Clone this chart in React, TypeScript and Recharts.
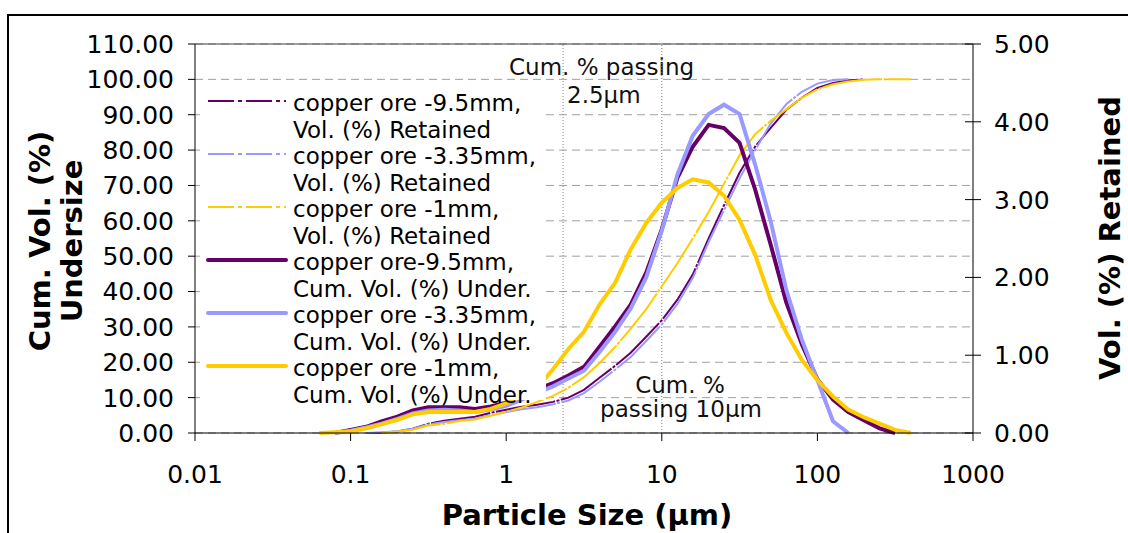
import {
  CartesianGrid, Legend, Line, LineChart, ReferenceLine, XAxis, YAxis,
} from "recharts";

// particle size (µm), log spaced
const sizes = [
  0.063, 0.079, 0.1, 0.126, 0.158, 0.2, 0.251, 0.316, 0.398, 0.501, 0.631, 0.794,
  1, 1.26, 1.58, 2, 2.51, 3.16, 3.98, 5.01, 6.31, 7.94,
  10, 12.6, 15.8, 20, 25.1, 31.6, 39.8, 50.1, 63.1, 79.4,
  100, 126, 158, 200, 251, 316, 398,
];

// thin S-curves, left axis (cumulative %)
const cum95 = [
  null, null, null, 0, 0.1, 0.4, 1.2, 2.6, 3.5, 4.0, 4.6, 5.7,
  6.6, 7.4, 8.0, 8.8, 10.0, 12.2, 15.6, 19.0, 22.7, 27.2,
  31.9, 37.7, 44.8, 55, 64.4, 73.6, 81, 86.3, 91.4, 94.8,
  97.6, 99.0, 99.7, 100, null, null, null,
];
const cum335 = [
  null, null, null, 0, 0.2, 0.5, 1.2, 2.4, 3.1, 3.6, 4.1, 5.0,
  5.9, 6.7, 7.3, 8.1, 9.2, 11.3, 14.5, 17.9, 21.5, 26,
  30.7, 36.5, 43.8, 54, 63, 72, 80, 87.5, 93, 96.5,
  98.8, 99.8, 100, null, null, null, null,
];
const cum1 = [
  null, null, null, null, 0.1, 0.4, 0.9, 2.1, 2.6, 3.4, 3.8, 4.9,
  6.0, 7.2, 8.8, 10.5, 12.8, 15.8, 19.8, 24.3, 29.5, 35,
  41.5, 48, 55, 62.5, 70.5, 78.5, 84.5, 88.3, 91.5, 94.8,
  97.2, 98.6, 99.4, 99.9, 100, 100, 100,
];

// thick bell curves, right axis (vol %)
const vol95 = [
  null, 0, 0.04, 0.08, 0.15, 0.21, 0.29, 0.33, 0.33, 0.33, 0.31, 0.34,
  0.39, 0.47, 0.56, 0.64, 0.74, 0.85, 1.11, 1.37, 1.65, 2.06,
  2.62, 3.28, 3.68, 3.96, 3.92, 3.73, 3.13, 2.42, 1.68, 1.14,
  0.69, 0.43, 0.27, 0.16, 0.06, 0, null,
];
const vol335 = [
  null, 0, 0.03, 0.07, 0.12, 0.18, 0.25, 0.29, 0.3, 0.29, 0.27, 0.3,
  0.35, 0.43, 0.52, 0.6, 0.7, 0.8, 1.04, 1.3, 1.6, 2.0,
  2.6, 3.32, 3.82, 4.1, 4.22, 4.1, 3.45, 2.72, 1.84, 1.2,
  0.68, 0.15, 0, null, null, null, null,
];
const vol1 = [
  0, 0.01, 0.02, 0.06, 0.11, 0.17, 0.24, 0.27, 0.27, 0.27, 0.27, 0.31,
  0.38, 0.48, 0.58, 0.82, 1.08, 1.3, 1.65, 1.93, 2.36, 2.7,
  2.96, 3.15, 3.26, 3.22, 3.05, 2.74, 2.29, 1.71, 1.29, 0.94,
  0.68, 0.47, 0.3, 0.2, 0.12, 0.04, 0,
];

const sizeTicks = [0.01, 0.1, 1, 10, 100, 1000];
const cumTicks = [0, 10, 20, 30, 40, 50, 60, 70, 80, 90, 100, 110];
const volTicks = [0, 1, 2, 3, 4, 5];
const passing25 = 2.32;
const passing10 = 10;

const PURPLE = "#660066";
const LAVENDER = "#9999ff";
const YELLOW = "#ffcc00";

const legendItems = [
  { top: "copper ore -9.5mm,", bottom: "Vol. (%) Retained", color: PURPLE, thick: false },
  { top: "copper ore -3.35mm,", bottom: "Vol. (%) Retained", color: LAVENDER, thick: false },
  { top: "copper ore -1mm,", bottom: "Vol. (%) Retained", color: YELLOW, thick: false },
  { top: "copper ore-9.5mm,", bottom: "Cum. Vol. (%) Under.", color: PURPLE, thick: true },
  { top: "copper ore -3.35mm,", bottom: "Cum. Vol. (%) Under.", color: LAVENDER, thick: true },
  { top: "copper ore -1mm,", bottom: "Cum. Vol. (%) Under.", color: YELLOW, thick: true },
];

const rows = sizes.map((size, i) => ({
  size,
  cum95: cum95[i],
  cum335: cum335[i],
  cum1: cum1[i],
  vol95: vol95[i],
  vol335: vol335[i],
  vol1: vol1[i],
}));

const FONT = "'DejaVu Sans', Verdana, sans-serif";

function LegendBox() {
  return (
    <div style={{ background: "#fff", width: 346, height: 310, fontSize: 23, lineHeight: "26.5px", color: "#000", whiteSpace: "nowrap" }}>
      {legendItems.map((it, i) => (
        <div key={i} style={{ position: "relative", height: 53, paddingLeft: 93 }}>
          <svg width={82} height={8} style={{ position: "absolute", left: 6, top: 7.3 }}>
            <line
              x1={2} x2={80} y1={4} y2={4}
              stroke={it.color}
              strokeWidth={it.thick ? 4 : 2}
              strokeLinecap={it.thick ? "round" : "butt"}
              strokeDasharray={it.thick ? undefined : "26 4 4 4"}
            />
          </svg>
          <div>{it.top}</div>
          <div>{it.bottom}</div>
        </div>
      ))}
    </div>
  );
}

function RightTick({ x, y, payload }: any) {
  const axisX = x - 21;
  return (
    <g>
      <line x1={axisX - 8} x2={axisX + 8} y1={y} y2={y} stroke="#000" />
      <text x={x} y={y} dy="0.36em" fontSize={25} fill="#000">
        {Number(payload.value).toFixed(2)}
      </text>
    </g>
  );
}

const titleStyle = { fontSize: 29, fontWeight: "bold" as const, fill: "#000" };
const noteStyle = { fontSize: 23, fill: "#111" };
const thinDash = "60 1.5 3 1.5";

export default function App() {
  return (
    <div style={{ position: "fixed", left: 0, top: 0, width: 1128, height: 533, overflow: "hidden", background: "#fff", fontFamily: FONT }}>
      <div style={{ position: "absolute", left: 7, top: 14, width: 1200, height: 600, border: "2px solid #000" }} />
      <LineChart
        width={1128}
        height={533}
        data={rows}
        margin={{ top: 44, right: 0, bottom: 0, left: 0 }}
        style={{ position: "absolute", left: 0, top: 0 }}
      >
        <CartesianGrid yAxisId="left" vertical={false} stroke="#a0a0a0" strokeDasharray="8 5" />
        <XAxis
          dataKey="size"
          type="number"
          scale="log"
          domain={[0.01, 1000]}
          ticks={sizeTicks}
          allowDataOverflow
          height={100}
          tick={{ fontSize: 25, fill: "#000" }}
          tickSize={8}
          tickMargin={24}
          axisLine={{ stroke: "#000" }}
          tickLine={{ stroke: "#000" }}
          label={{
            content: () => (
              <text x={587} y={525} textAnchor="middle" {...titleStyle}>Particle Size (µm)</text>
            ),
          }}
        />
        <YAxis
          yAxisId="left"
          domain={[0, 110]}
          ticks={cumTicks}
          width={195}
          tick={{ fontSize: 25, fill: "#000" }}
          tickFormatter={(v) => Number(v).toFixed(2)}
          tickSize={7}
          tickMargin={14}
          axisLine={{ stroke: "#000" }}
          tickLine={{ stroke: "#000" }}
          label={{
            content: () => (
              <g>
                <text transform="rotate(-90 50 241)" x={50} y={241} textAnchor="middle" {...titleStyle}>Cum. Vol. (%)</text>
                <text transform="rotate(-90 82 241)" x={82} y={241} textAnchor="middle" {...titleStyle}>Undersize</text>
              </g>
            ),
          }}
        />
        <YAxis
          yAxisId="right"
          orientation="right"
          domain={[0, 5]}
          ticks={volTicks}
          width={155}
          tick={<RightTick />}
          tickSize={8}
          tickMargin={13}
          tickLine={false}
          axisLine={{ stroke: "#000" }}
          label={{
            content: () => (
              <text transform="rotate(-90 1120 238)" x={1120} y={238} textAnchor="middle" {...titleStyle}>Vol. (%) Retained</text>
            ),
          }}
        />
        <ReferenceLine yAxisId="left" y={110} stroke="#404040" />
        <ReferenceLine
          yAxisId="left"
          x={passing25}
          stroke="#808080"
          strokeDasharray="1 2"
          label={{
            content: () => (
              <g>
                <text x={509} y={75} {...noteStyle}>Cum. % passing</text>
                <text x={567} y={103} {...noteStyle}>2.5µm</text>
              </g>
            ),
          }}
        />
        <ReferenceLine
          yAxisId="left"
          x={passing10}
          stroke="#808080"
          strokeDasharray="1 2"
          label={{
            content: () => (
              <g>
                <text x={680} y={393} textAnchor="middle" {...noteStyle}>Cum. %</text>
                <text x={681} y={417} textAnchor="middle" {...noteStyle}>passing 10µm</text>
              </g>
            ),
          }}
        />
        <Line yAxisId="left" dataKey="cum95" type="linear" stroke={PURPLE} strokeWidth={2} strokeDasharray={thinDash} dot={false} isAnimationActive={false} />
        <Line yAxisId="left" dataKey="cum335" type="linear" stroke={LAVENDER} strokeWidth={2} strokeDasharray={thinDash} dot={false} isAnimationActive={false} />
        <Line yAxisId="left" dataKey="cum1" type="linear" stroke={YELLOW} strokeWidth={2} strokeDasharray={thinDash} dot={false} isAnimationActive={false} />
        <Line yAxisId="right" dataKey="vol95" type="linear" stroke={PURPLE} strokeWidth={4} dot={false} isAnimationActive={false} />
        <Line yAxisId="right" dataKey="vol335" type="linear" stroke={LAVENDER} strokeWidth={4} dot={false} isAnimationActive={false} />
        <Line yAxisId="right" dataKey="vol1" type="linear" stroke={YELLOW} strokeWidth={4} dot={false} isAnimationActive={false} />
        <Legend
          layout="vertical"
          align="center"
          verticalAlign="middle"
          content={<LegendBox />}
          wrapperStyle={{ left: 200, top: 90, width: 346, height: 310 }}
        />
      </LineChart>
    </div>
  );
}
